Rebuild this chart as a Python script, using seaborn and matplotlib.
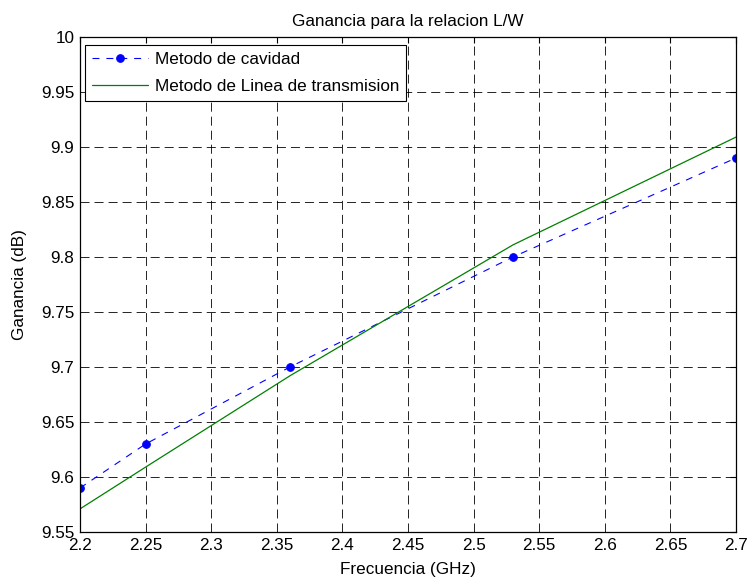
import matplotlib
matplotlib.use("Agg")
import matplotlib.pyplot as plt
import seaborn as sns
import pandas as pd
import numpy as np

freq_cav = [2.2, 2.25, 2.36, 2.53, 2.7]
gain_cav = [9.59, 9.63, 9.70, 9.80, 9.89]
freq_lt = [2.2, 2.25, 2.36, 2.53, 2.7]
gain_lt = [9.571, 9.609, 9.692, 9.811, 9.909]
xticks = [2.2, 2.25, 2.3, 2.35, 2.4, 2.45, 2.5, 2.55, 2.6, 2.65, 2.7]
yticks = [9.55, 9.6, 9.65, 9.7, 9.75, 9.8, 9.85, 9.9, 9.95, 10]

sns.set_style("white")
plt.rcParams['font.family'] = ['Liberation Sans', 'DejaVu Sans']
plt.rcParams['text.color'] = 'black'
plt.rcParams['axes.labelcolor'] = 'black'
FS = 12.3
plt.rcParams['font.size'] = FS

W, H = 748, 578
L, R, T, B = 80, 736, 37, 532
fig = plt.figure(figsize=(W/100, H/100), dpi=100)
ax = fig.add_axes([L/W, 1-B/H, (R-L)/W, (B-T)/H])

df1 = pd.DataFrame({"f": freq_cav, "g": gain_cav})
df2 = pd.DataFrame({"f": freq_lt, "g": gain_lt})
lw_b = 0.8
sns.lineplot(data=df1, x="f", y="g", ax=ax, color="blue", linestyle=(0, (5.0/lw_b, 5.0/lw_b)), linewidth=lw_b,
             marker="o", markersize=5.5, markeredgecolor="blue", label="Metodo de cavidad")
sns.lineplot(data=df2, x="f", y="g", ax=ax, color="green", linewidth=0.9,
             label="Metodo de Linea de transmision")

ax.set_xlim(2.2, 2.7)
ax.set_ylim(9.55, 10)
ax.set_xticks(xticks)
ax.set_xticklabels([f"{v:g}" for v in xticks])
ax.set_yticks(yticks)
ax.set_yticklabels([f"{v:g}" for v in yticks])
lw_g = 0.6
ax.grid(True, color="black", linestyle=(0, (6.5/lw_g, 3.6/lw_g)), linewidth=lw_g)
ax.tick_params(direction="in", top=True, right=True, length=4.5, width=0.8, colors="black",
               labelsize=FS, pad=4)
for s in ax.spines.values():
    s.set_color("black")
    s.set_linewidth(0.9)
ax.set_xlabel("Frecuencia (GHz)", fontsize=FS, labelpad=6.5)
ax.set_ylabel("Ganancia (dB)", fontsize=FS, labelpad=10)
ax.set_title("Ganancia para la relacion L/W", fontsize=FS, pad=8)
leg = ax.legend(loc="upper left", bbox_to_anchor=((85-L)/(R-L), (B-45)/(B-T)), borderaxespad=0,
                fancybox=False, edgecolor="black", framealpha=1, fontsize=FS,
                handlelength=3.3, handletextpad=0.4, borderpad=0.4, labelspacing=0.7)
leg.get_frame().set_linewidth(0.8)
fig.savefig("out.png", dpi=100)
